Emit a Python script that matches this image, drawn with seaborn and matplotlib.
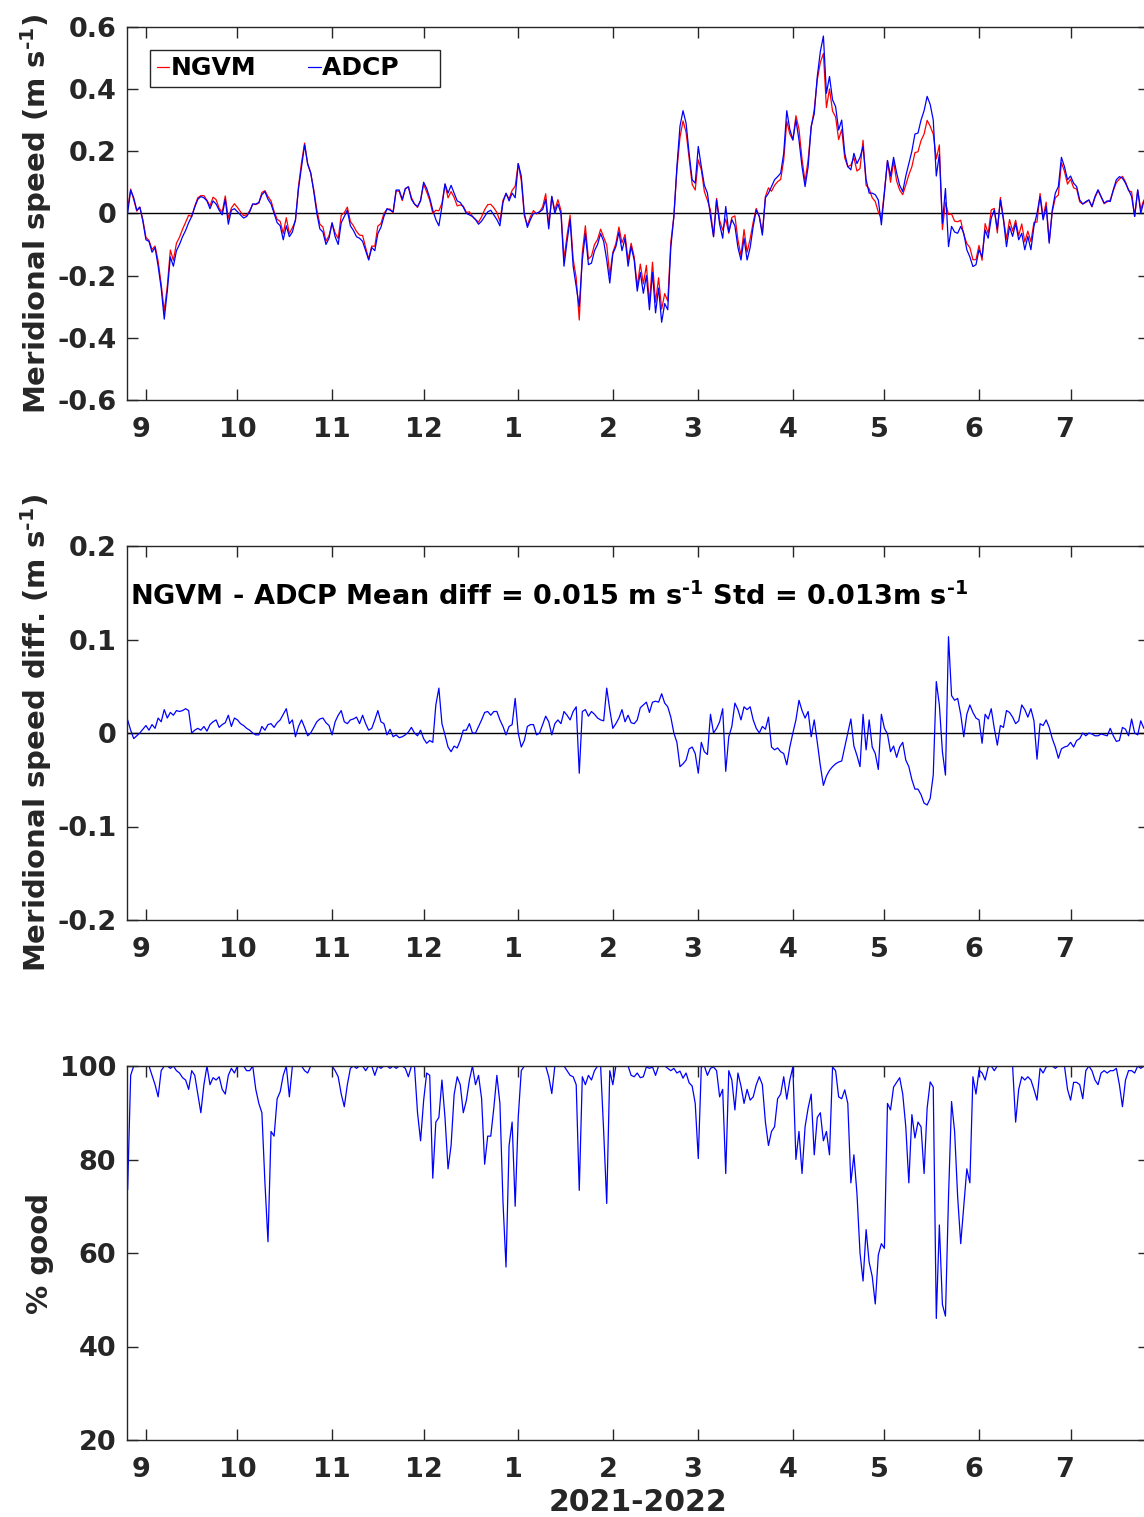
import numpy as np
import pandas as pd
import matplotlib
matplotlib.use('Agg')
import matplotlib.pyplot as plt
import seaborn as sns

# daily values, first day = 2021-08-26
start_day = '2021-08-26'

# ADCP meridional speed (m/s), blue curve of top panel
adcp = [
    0.0, 0.075, 0.05, 0.01, 0.02, -0.025, -0.085, -0.09, -0.125, -0.11,
    -0.17, -0.24, -0.34, -0.25, -0.14, -0.17, -0.12, -0.1, -0.075, -0.055,
    -0.03, -0.01, 0.02, 0.045, 0.054, 0.05, 0.04, 0.015, 0.04, 0.03,
    0.01, -0.005, 0.045, -0.035, 0.01, 0.015, 0.005, -0.005, -0.015, -0.01,
    0.005, 0.03, 0.03, 0.035, 0.06, 0.07, 0.045, 0.03, 0.0, -0.03,
    -0.04, -0.085, -0.04, -0.075, -0.06, -0.02, 0.08, 0.15, 0.22, 0.16,
    0.13, 0.07, 0.0, -0.05, -0.06, -0.1, -0.08, -0.03, -0.075, -0.1,
    -0.03, -0.01, 0.01, -0.04, -0.055, -0.075, -0.08, -0.09, -0.12, -0.15,
    -0.11, -0.12, -0.065, -0.045, -0.01, 0.015, 0.01, 0.005, 0.075, 0.075,
    0.045, 0.08, 0.085, 0.045, 0.03, 0.022, 0.04, 0.1, 0.08, 0.05,
    0.01, -0.02, -0.04, 0.022, 0.095, 0.065, 0.09, 0.065, 0.04, 0.035,
    0.02, 0.0, -0.005, -0.01, -0.02, -0.035, -0.025, -0.01, 0.005, 0.01,
    -0.005, -0.02, -0.04, 0.035, 0.065, 0.04, 0.065, 0.05, 0.16, 0.12,
    0.0, -0.045, -0.02, 0.0, 0.0, 0.005, 0.012, 0.045, -0.05, 0.055,
    0.0, 0.03, 0.0, -0.17, -0.09, -0.02, -0.17, -0.235, -0.3, -0.15,
    -0.065, -0.165, -0.16, -0.12, -0.1, -0.065, -0.09, -0.15, -0.224, -0.13,
    -0.107, -0.06, -0.12, -0.08, -0.17, -0.107, -0.15, -0.25, -0.19, -0.257,
    -0.2, -0.31, -0.19, -0.32, -0.24, -0.35, -0.29, -0.31, -0.11, -0.01,
    0.15, 0.28, 0.33, 0.29, 0.193, 0.108, 0.097, 0.215, 0.15, 0.09,
    0.065, -0.01, -0.075, 0.043, -0.035, -0.08, 0.022, -0.06, -0.02, -0.04,
    -0.11, -0.15, -0.08, -0.15, -0.11, -0.042, 0.011, -0.01, -0.07, 0.05,
    0.065, 0.086, 0.108, 0.118, 0.129, 0.193, 0.33, 0.27, 0.236, 0.3,
    0.236, 0.15, 0.086, 0.15, 0.28, 0.32, 0.44, 0.52, 0.57, 0.386,
    0.44, 0.365, 0.343, 0.268, 0.3, 0.193, 0.15, 0.14, 0.193, 0.16,
    0.18, 0.215, 0.108, 0.065, 0.065, 0.06, 0.043, -0.037, 0.065, 0.17,
    0.12, 0.18, 0.13, 0.09, 0.07, 0.12, 0.16, 0.2, 0.255, 0.258,
    0.3, 0.33, 0.376, 0.35, 0.3, 0.12, 0.19, -0.032, 0.08, -0.107,
    -0.042, -0.06, -0.064, -0.042, -0.064, -0.117, -0.14, -0.171, -0.165, -0.117,
    -0.14, -0.053, -0.08, -0.015, 0.011, -0.05, 0.043, -0.021, -0.107, -0.042,
    -0.074, -0.032, -0.085, -0.064, -0.117, -0.074, -0.117, -0.042, 0.0, 0.054,
    -0.021, 0.022, -0.096, 0.011, 0.065, 0.086, 0.18, 0.15, 0.108, 0.12,
    0.097, 0.086, 0.043, 0.03, 0.038, 0.043, 0.022, 0.054, 0.076, 0.054,
    0.033, 0.04, 0.038, 0.076, 0.108, 0.118, 0.113, 0.097, 0.076, 0.054,
    -0.01, 0.076, 0.0, 0.038,
]

# NGVM - ADCP difference (m/s), middle panel
diff = [
    0.014, 0.003, -0.006, -0.003, 0.0, 0.004, 0.008, 0.003, 0.009, 0.005,
    0.016, 0.012, 0.025, 0.016, 0.022, 0.019, 0.024, 0.023, 0.024, 0.026,
    0.024, 0.0, 0.003, 0.005, 0.003, 0.007, 0.002, 0.009, 0.012, 0.014,
    0.006, 0.009, 0.011, 0.019, 0.007, 0.016, 0.014, 0.01, 0.008, 0.005,
    0.003, 0.0, -0.002, -0.002, 0.007, 0.003, 0.009, 0.01, 0.006, 0.011,
    0.014, 0.02, 0.026, 0.01, 0.014, -0.004, 0.007, 0.014, 0.006, -0.003,
    0.0, 0.006, 0.012, 0.015, 0.016, 0.011, 0.008, -0.002, 0.012, 0.019,
    0.024, 0.012, 0.01, 0.014, 0.015, 0.017, 0.01, 0.019, 0.01, 0.003,
    0.005, 0.014, 0.024, 0.012, 0.01, -0.002, 0.004, -0.004, -0.002, -0.005,
    -0.004, -0.002, 0.001, 0.006, 0.0, -0.003, 0.003, -0.006, -0.011, -0.008,
    -0.01, 0.03, 0.048, 0.01, -0.002, -0.015, -0.02, -0.014, -0.016, -0.008,
    0.003, 0.003, 0.01, 0.0, 0.0, 0.007, 0.014, 0.022, 0.023, 0.019,
    0.023, 0.023, 0.014, 0.007, -0.002, 0.007, 0.009, 0.037, 0.0, -0.015,
    -0.008, 0.007, 0.009, 0.009, -0.002, 0.0, 0.009, 0.018, 0.012, -0.002,
    0.01, 0.014, 0.01, 0.023, 0.019, 0.014, 0.023, 0.028, -0.043, 0.023,
    0.025, 0.018, 0.023, 0.02, 0.016, 0.014, 0.013, 0.048, 0.025, 0.005,
    0.01, 0.016, 0.025, 0.012, 0.019, 0.011, 0.01, 0.014, 0.027, 0.03,
    0.033, 0.022, 0.033, 0.034, 0.033, 0.042, 0.032, 0.028, 0.017, 0.0,
    -0.01, -0.036, -0.033, -0.029, -0.017, -0.015, -0.022, -0.043, -0.01, -0.02,
    -0.023, 0.02, 0.0, 0.005, 0.012, 0.026, -0.041, -0.004, 0.007, 0.032,
    0.025, 0.014, 0.028, 0.025, 0.028, 0.014, 0.005, 0.0, 0.007, 0.004,
    0.017, -0.015, -0.018, -0.016, -0.02, -0.022, -0.034, -0.015, 0.0, 0.014,
    0.035, 0.024, 0.016, 0.023, -0.004, 0.014, -0.01, -0.035, -0.056, -0.046,
    -0.04, -0.036, -0.033, -0.031, -0.03, -0.015, 0.0, 0.015, -0.014, -0.024,
    -0.036, 0.02, -0.018, 0.014, -0.015, -0.022, -0.039, 0.02, 0.005, -0.001,
    -0.02, -0.014, -0.026, -0.015, -0.01, -0.029, -0.036, -0.05, -0.06, -0.06,
    -0.066, -0.075, -0.077, -0.07, -0.045, 0.055, 0.03, -0.02, -0.045, 0.103,
    0.04, 0.035, 0.037, 0.02, -0.004, 0.02, 0.03, 0.022, 0.016, 0.014,
    -0.011, 0.02, 0.015, 0.026, 0.005, -0.013, 0.008, 0.006, 0.024, 0.022,
    0.017, 0.01, 0.013, 0.03, 0.025, 0.017, 0.026, 0.013, -0.028, 0.01,
    0.008, 0.014, 0.006, -0.006, -0.015, -0.027, -0.017, -0.015, -0.014, -0.01,
    -0.015, -0.008, -0.006, 0.0, -0.003, 0.0, -0.001, -0.003, -0.003, -0.001,
    -0.002, -0.003, 0.005, -0.003, -0.009, -0.008, 0.006, 0.004, -0.003, 0.015,
    0.0, -0.002, 0.013, 0.005,
]

# percent good, bottom panel
good = [
    73.5, 98, 100, 100, 100, 100, 100, 100, 98, 96,
    93.4, 99, 100, 100, 99.5, 100, 99, 98.5, 97.5, 97,
    95, 99, 98, 94, 90, 96, 100, 96, 97.5, 97,
    97.7, 95, 94, 98, 99.5, 98.5, 100, 100, 100, 99,
    99, 100, 95, 92, 90, 75, 62.4, 86, 85, 93,
    94.5, 98, 100, 93.4, 100, 100, 100, 100, 99, 98.5,
    100, 100, 100, 100, 100, 100, 100, 100, 99, 97.7,
    94, 91.3, 96, 99.5, 100, 99.5, 100, 100, 99, 100,
    100, 98, 100, 99.5, 100, 100, 99.5, 100, 99.5, 100,
    100, 99.5, 97.7, 100, 100, 90, 84, 92.6, 98.5, 98,
    76, 88, 89, 97, 89, 78, 83, 93.9, 97.7, 96,
    90, 92.6, 97, 100, 96, 98, 93, 79, 85, 85,
    91, 98, 92, 71, 57, 83, 88, 70, 89, 99,
    100, 100, 100, 100, 100, 100, 100, 100, 97.7, 94.1,
    100, 100, 100, 100, 99, 98, 97.7, 96, 73.4, 97.7,
    96, 98, 97, 99, 100, 100, 86, 70.6, 99, 96,
    100, 100, 100, 100, 100, 98, 97.7, 98.5, 97.5, 97.7,
    99.8, 99.5, 99.8, 98, 100, 100, 100, 99.5, 99, 99.5,
    98.5, 98.9, 97.4, 98.5, 96.4, 95.7, 92, 80.2, 99.8, 100,
    98, 99.5, 99.8, 99, 93.4, 95, 77, 99, 97, 90.6,
    98.5, 95.7, 92, 95, 92.7, 93.4, 96, 97.7, 96, 88,
    83, 86, 87, 93, 94, 97.7, 92.9, 97, 99.8, 80,
    86, 77, 87, 91, 94, 81, 89, 90, 84, 86,
    81, 99.8, 99, 93.4, 93, 94.9, 92, 75, 81, 72.7,
    60, 54, 65, 58, 55, 49.1, 59.6, 62, 61, 92,
    90.6, 95.5, 96.5, 97.5, 94, 87, 75, 89.6, 84.6, 88,
    87, 77, 91, 96.6, 95.5, 46, 66, 49, 46.5, 72,
    92.4, 86, 72, 62, 70, 78, 75, 97.7, 94, 99.1,
    98.5, 97, 99.8, 100, 99, 100, 100, 100, 100, 100,
    100, 88, 95, 97.7, 97, 97.7, 97, 95, 92.7, 99.5,
    98.5, 99.8, 100, 100, 99.5, 100, 100, 100, 95, 92.7,
    96.5, 96.5, 96, 93, 99, 100, 99, 97, 96, 98.5,
    99, 98.5, 99, 99, 99.5, 96, 91.3, 97, 99, 99,
    98.5, 100, 99.5, 100,
]

month_ticks = ['2021-09-01', '2021-10-01', '2021-11-01', '2021-12-01', '2022-01-01',
               '2022-02-01', '2022-03-01', '2022-04-01', '2022-05-01', '2022-06-01',
               '2022-07-01']
# single digit months sit a little left of their tick in the original
month_labels = ['9 ', '10', '11', '12', '1 ', '2 ', '3 ', '4 ', '5 ', '6 ', '7 ']

n = min(len(adcp), len(diff), len(good))
df = pd.DataFrame({
    'time': pd.date_range(start_day, periods=n, freq='D'),
    'ADCP': adcp[:n],
    'diff': diff[:n],
    'good': good[:n],
})
# NGVM curve is the ADCP curve plus the plotted difference
df['NGVM'] = df['ADCP'] + df['diff']

sns.set_theme(style='ticks')
plt.rcParams['font.family'] = ['DejaVu Sans']
plt.rcParams['font.weight'] = 'bold'
plt.rcParams['axes.labelweight'] = 'bold'
plt.rcParams['mathtext.default'] = 'bf'
plt.rcParams['axes.unicode_minus'] = False

fig = plt.figure(figsize=(11.44, 15.17), dpi=100)
W, H = 1144.0, 1517.0
left, right = 126.7, 1149.0


def make_ax(top, bottom):
    return fig.add_axes([left / W, 1 - bottom / H, (right - left) / W, (bottom - top) / H])


ax1 = make_ax(26.7, 400.0)
ax2 = make_ax(546.0, 920.0)
ax3 = make_ax(1066.0, 1440.0)

t0 = pd.Timestamp(start_day) - pd.Timedelta(days=0.3)
t1 = pd.Timestamp(start_day) + pd.Timedelta(days=334.7)
dark = '#262626'
sup = '$^{\u2010' + '1}$'   # superscript "-1" drawn with a plain hyphen


def style(ax, ylim, yticks, ylabels, ylabel):
    ax.set_xlim(t0, t1)
    ax.set_ylim(*ylim)
    ax.set_yticks(yticks)
    ax.set_yticklabels(ylabels)
    ax.set_xticks(pd.to_datetime(month_ticks))
    ax.set_xticklabels(month_labels)
    ax.tick_params(axis='both', direction='in', length=7.7, width=1.0, top=True, right=True,
                   labelsize=19.5, colors=dark)
    ax.tick_params(axis='x', pad=12.5)
    ax.tick_params(axis='y', pad=7.5)
    for lab in ax.get_xticklabels() + ax.get_yticklabels():
        lab.set_fontweight('bold')
    for sp in ax.spines.values():
        sp.set_color(dark)
        sp.set_linewidth(1.0)
    ax.set_xlabel('')
    ax.set_ylabel(ylabel, fontsize=21, fontweight='bold', color=dark)
    ax.yaxis.set_label_coords(-0.071, 0.5)


# top panel
sns.lineplot(data=df, x='time', y='NGVM', ax=ax1, color='red', lw=0.9, label='NGVM')
sns.lineplot(data=df, x='time', y='ADCP', ax=ax1, color='blue', lw=0.9, label='ADCP    ')
ax1.axhline(0, color='black', lw=1.0, zorder=1)
style(ax1, (-0.6, 0.6), [-0.6, -0.4, -0.2, 0, 0.2, 0.4, 0.6],
      ['-0.6', '-0.4', '-0.2', '0', '0.2', '0.4', '0.6'], 'Meridional speed (m s' + sup + ')')
leg = ax1.legend(loc='upper left', bbox_to_anchor=(0.0228, 0.9376), borderaxespad=0, ncol=2,
                 fontsize=18, handlelength=0.5, handletextpad=0.05, columnspacing=2.1,
                 borderpad=0.26, fancybox=False, framealpha=1, edgecolor=dark)
leg.get_frame().set_linewidth(1.0)
for t in leg.get_texts():
    t.set_fontweight('bold')
    t.set_color('black')

# middle panel
sns.lineplot(data=df, x='time', y='diff', ax=ax2, color='blue', lw=0.9)
ax2.axhline(0, color='black', lw=1.0, zorder=1)
style(ax2, (-0.2, 0.2), [-0.2, -0.1, 0, 0.1, 0.2], ['-0.2', '-0.1', '0', '0.1', '0.2'],
      'Meridional speed diff. (m s' + sup + ')')
ax2.text(0.003, 0.864, 'NGVM - ADCP Mean diff = 0.015 m s' + sup + ' Std = 0.013m s' + sup,
         transform=ax2.transAxes, ha='left', va='center', fontsize=19.5, fontweight='bold',
         color='black')

# bottom panel
sns.lineplot(data=df, x='time', y='good', ax=ax3, color='blue', lw=0.9)
style(ax3, (20, 100), [20, 40, 60, 80, 100], ['20', '40', '60', '80', '100'], '% good')
ax3.set_xlabel('2021-2022', fontsize=21.5, fontweight='bold', color=dark)
ax3.xaxis.set_label_coords(0.5, -0.128)

fig.savefig('out.png', dpi=100)
